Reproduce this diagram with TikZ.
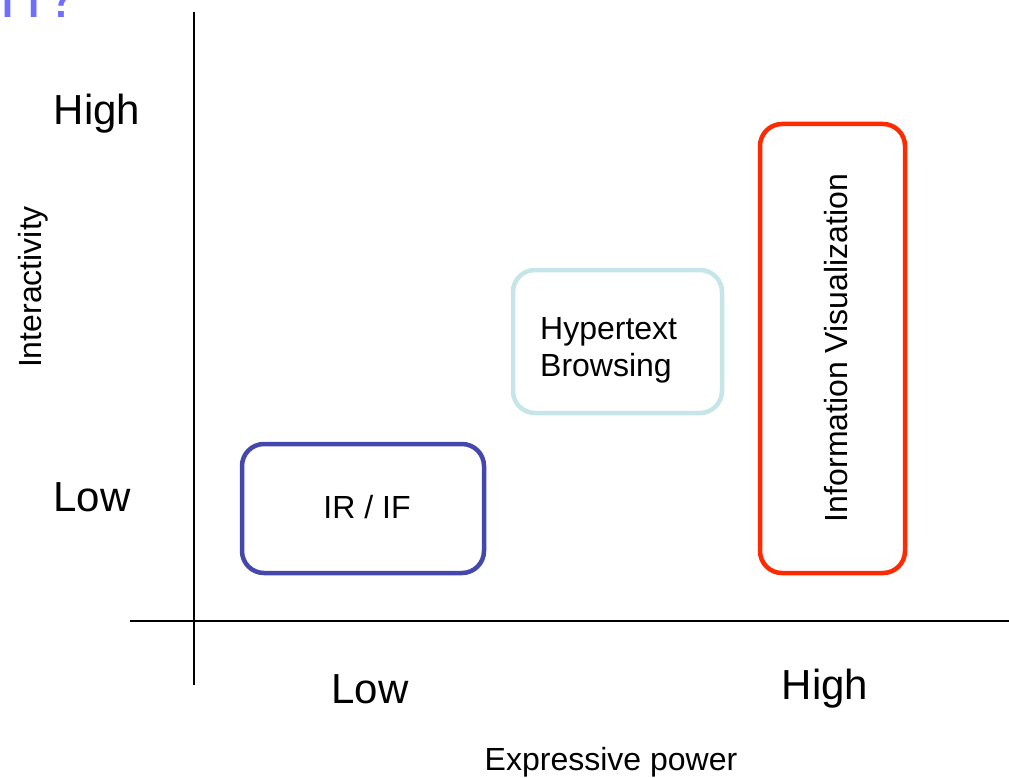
\documentclass[tikz,border=0pt]{standalone}
\usepackage{fontspec}
\setmainfont{Liberation Sans}
\begin{document}
\begin{tikzpicture}[x=1pt,y=-1pt,
  lbl/.style={font=\fontsize{32}{37}\selectfont, inner sep=0pt},
  big/.style={font=\fontsize{42}{48}\selectfont, inner sep=0pt},
  zone/.style={draw, line width=4.5pt, rounded corners=22pt, fill=white},
  axis/.style={draw=black, line width=1.7pt}]
\definecolor{irblue}{RGB}{68,72,170}
\definecolor{htcyan}{RGB}{197,229,232}
\definecolor{ivred}{RGB}{255,42,0}
\definecolor{titleblue}{RGB}{110,110,255}
\useasboundingbox (0,0) rectangle (1009,778);

% tail of the slide title, cut by the top edge
\begin{scope}
  \clip (0,0) rectangle (200,40);
  \node[anchor=base west, inner sep=0pt, text=titleblue,
        font=\fontsize{61}{70}\selectfont] (title) at (-1,18) {I\kern-1ptT\kern-7pt?};
\end{scope}

% axes
\coordinate (ytop) at (194,12);
\coordinate (ybot) at (194,685);
\coordinate (xleft) at (130,621);
\coordinate (xright) at (1009,621);
\draw[axis] (ytop) -- (ybot);
\draw[axis] (xleft) -- (xright);

% axis labels
\node[big] (yhigh) at (97,114) {High};
\node[big] (ylow) at (92,497) {Low};
\node[big] (xlow) at (370,689) {Low};
\node[big] (xhigh) at (825,689) {High};
\node[lbl, rotate=90] (ylabel) at (33,287) {Interactivity};
\node[lbl] (xlabel) at (611,762) {Expressive power};

% regions
\draw[zone, draw=irblue] (242,444) rectangle (484,573);
\node[lbl] (irif) at (367,507) {IR / IF};

\draw[zone, draw=htcyan] (513,270) rectangle (722,413);
\node[lbl, align=left, anchor=west] (hyper) at (540,350) {Hypertext\\Browsing};

\draw[zone, draw=ivred] (760,124) rectangle (905,573);
\node[lbl, rotate=90] (infovis) at (836,348) {Information Visualization};
\end{tikzpicture}
\end{document}
